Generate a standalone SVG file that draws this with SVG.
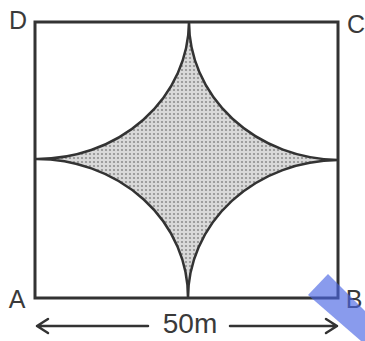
<svg xmlns="http://www.w3.org/2000/svg" width="365" height="341" viewBox="0 0 365 341">
<style>
.ln{fill:none;stroke:#333;stroke-width:3;stroke-linecap:round;stroke-linejoin:miter}
.lbl{font-family:"Liberation Sans",Arial,sans-serif;font-size:25px;fill:#3a3a3a}
.arr{fill:none;stroke:#333;stroke-width:2.5;stroke-linecap:round;stroke-linejoin:round}
</style>
<defs>
<pattern id="dots" width="4" height="4" patternUnits="userSpaceOnUse">
<rect width="4" height="4" fill="#d9d9d9"/>
<circle cx="2" cy="2" r="1.1" fill="#8f8f8f"/>
</pattern>
</defs>
<rect width="365" height="341" fill="#fff"/>
<g id="shaded">
<path d="M189,22 A151.5 138 0 0 0 338,160 A151.5 138 0 0 0 188,298 A151.5 138 0 0 0 35,159 A151.5 138 0 0 0 189,22 Z" fill="url(#dots)" stroke="#333" stroke-width="2.5"/>
</g>
<g id="square">
<rect x="35" y="22" width="303" height="276" class="ln"/>
</g>
<g id="labels">
<text class="lbl" x="18" y="29" text-anchor="middle">D</text>
<text class="lbl" x="356" y="33" text-anchor="middle">C</text>
<text class="lbl" x="17" y="308" text-anchor="middle">A</text>
<text class="lbl" x="354" y="308" text-anchor="middle">B</text>
</g>
<g id="connectors">
<path class="arr" d="M37,326 H148 M48,319 L37,326 L48,333"/>
<path class="arr" d="M230,326 H337 M326,319 L337,326 L326,333"/>
<text class="lbl" x="190" y="333" text-anchor="middle" style="font-size:28px">50m</text>
</g>
<polygon points="308,295 328,274 365,311 365,341 361,341" fill="#4a66e4" opacity="0.65"/>
</svg>
